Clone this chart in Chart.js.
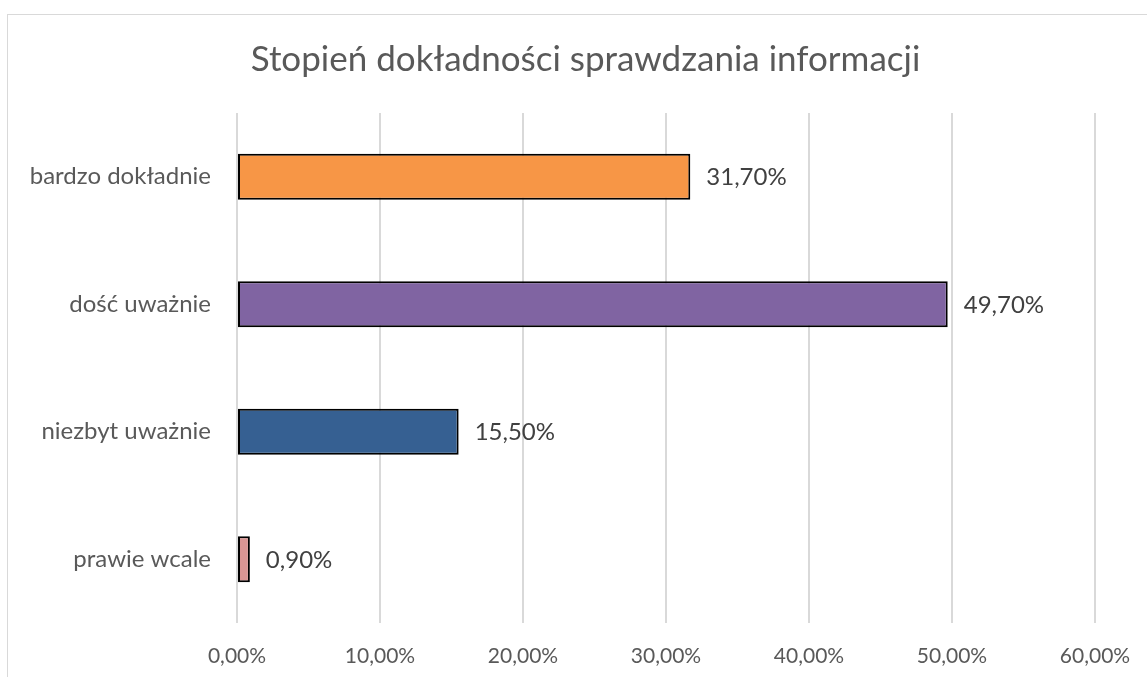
<!DOCTYPE html>
<html><head><meta charset="utf-8">
<script src="https://cdn.jsdelivr.net/npm/chart.js@4/dist/chart.umd.min.js"></script>
<style>
html,body{margin:0;padding:0;background:#fff;overflow:hidden;}
#wrap{position:relative;width:1147px;height:677px;}
#frame{position:absolute;left:7px;top:14px;width:1300px;height:800px;border:1px solid #D9D9D9;box-sizing:border-box;}
canvas{position:absolute;left:0;top:0;}
</style></head>
<body><div id="wrap"><div id="frame"></div><canvas id="c" width="1147" height="677"></canvas></div>
<script>
const title = "Stopień dokładności sprawdzania informacji";
const categories = ["bardzo dokładnie", "dość uważnie", "niezbyt uważnie", "prawie wcale"];
const values = [31.7, 49.7, 15.5, 0.9];
const barColors = ["#F79646", "#8064A2", "#366092", "#D99694"];
const xTicks = [0, 10, 20, 30, 40, 50, 60];

const FONT = "Lato, 'Open Sans', sans-serif";
const fmt = v => v.toFixed(2).replace('.', ',') + '%';

const dataLabels = {
  id: 'dataLabels',
  afterDatasetsDraw(chart) {
    const ctx = chart.ctx;
    const meta = chart.getDatasetMeta(0);
    ctx.save();
    ctx.font = "24px " + FONT;
    ctx.fillStyle = "#404040";
    ctx.textAlign = "left";
    ctx.textBaseline = "middle";
    meta.data.forEach((bar, i) => {
      ctx.fillText(fmt(values[i]), bar.x + 16, bar.y + 1);
    });
    ctx.restore();
  }
};

// centre the title over the whole chart frame rather than only the plot
const titleShift = {
  id: 'titleShift',
  afterLayout(chart) {
    const t = chart.titleBlock;
    if (t) { t.left = 76; t.right = chart.chartArea.right; t.width = t.right - t.left; }
  }
};

const PAD_RIGHT = 52;

new Chart(document.getElementById('c'), {
  type: 'bar',
  data: {
    labels: categories,
    datasets: [{
      data: values,
      backgroundColor: barColors,
      borderColor: "#000000",
      borderWidth: 2,
      borderSkipped: false,
      barPercentage: 0.72,
      categoryPercentage: 0.5
    }]
  },
  options: {
    indexAxis: 'y',
    responsive: false,
    animation: false,
    layout: { padding: { left: 0, right: PAD_RIGHT, top: 0, bottom: 0 } },
    plugins: {
      legend: { display: false },
      tooltip: { enabled: false },
      title: {
        display: true,
        text: title,
        color: "#595959",
        font: { family: FONT, size: 35, weight: 'normal' },
        padding: { top: 39, bottom: 32 }
      }
    },
    scales: {
      x: {
        min: 0, max: 60,
        afterBuildTicks: s => { s.ticks = xTicks.map(v => ({ value: v })); },
        ticks: {
          callback: v => fmt(v),
          color: "#595959",
          font: { family: FONT, size: 21 },
          padding: 21,
          maxRotation: 0
        },
        grid: { color: "#D9D9D9", lineWidth: 2, drawTicks: false },
        border: { display: false },
        afterFit: s => { s.height = 677 - 623; s.paddingLeft = 0; s.paddingRight = 0; }
      },
      y: {
        ticks: {
          color: "#595959",
          font: { family: FONT, size: 24 },
          padding: 26
        },
        grid: { display: false, drawTicks: false },
        border: { display: false },
        afterFit: s => { s.width = 237; s.paddingTop = 0; s.paddingBottom = 0; }
      }
    }
  },
  plugins: [dataLabels, titleShift]
});
</script></body></html>
